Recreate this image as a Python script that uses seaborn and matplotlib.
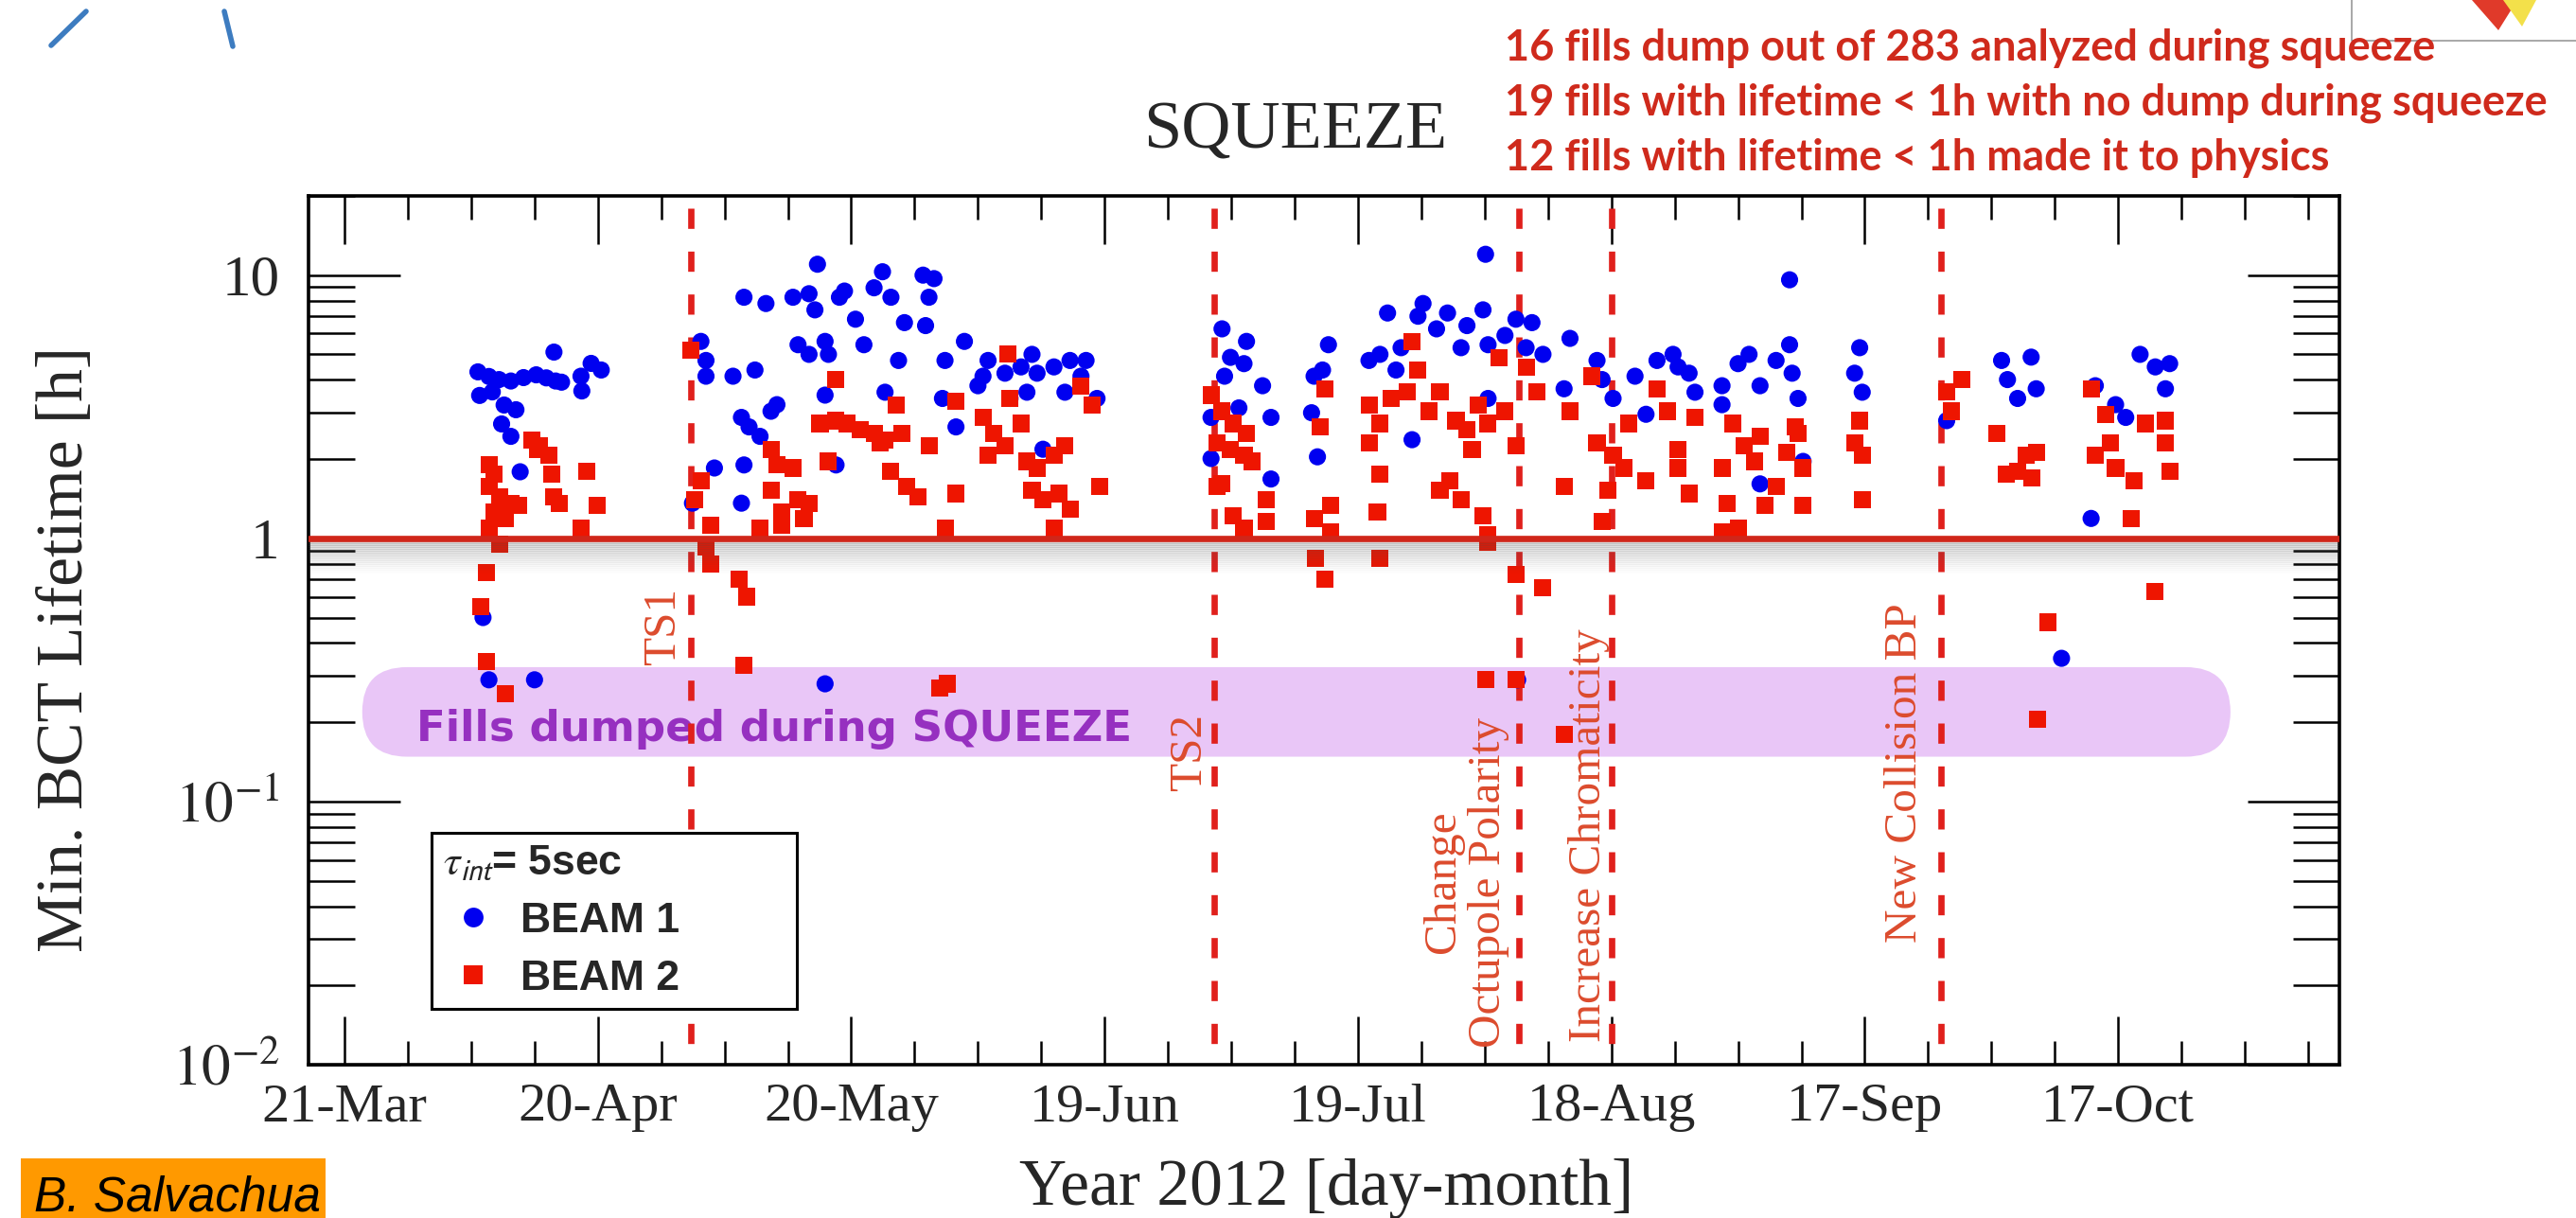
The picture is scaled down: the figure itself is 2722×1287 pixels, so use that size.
import numpy as np
import pandas as pd
import matplotlib
matplotlib.use("Agg")
import matplotlib.pyplot as plt
import matplotlib.dates as mdates
import matplotlib.ticker as mticker
from matplotlib.patches import FancyBboxPatch, Rectangle, Polygon
from matplotlib.lines import Line2D
from matplotlib.transforms import IdentityTransform
import seaborn as sns

# ---------------- data (days after 21-Mar-2012, lifetime in hours) ----------------
beam1_day = [15.8, 17.1, 18.3, 19.7, 21.2, 22.7, 23.9, 25.0, 25.7, 24.8, 28.1, 29.2, 30.4, 28.0,
             16.0, 17.5, 18.9, 20.3, 18.6, 19.7, 20.8, 16.4, 17.1, 22.5,
             42.2, 42.8, 42.8, 46.0, 48.6, 47.0, 47.9, 49.2, 50.5, 51.2, 47.3, 43.8, 47.0, 41.2,
             47.3, 49.9, 53.1, 55.0, 56.0, 55.7, 58.6, 59.2, 60.5, 62.7, 63.7, 64.7, 66.3, 68.5,
             69.8, 69.2, 68.8, 53.7, 55.0, 56.9, 57.3, 61.5, 65.6, 71.1, 73.4, 70.8, 72.4, 64.0,
             56.9, 58.2, 76.2, 78.2, 80.1, 81.4, 82.0, 84.0, 85.9, 87.8, 87.2, 89.1, 85.3, 80.8,
             78.8, 75.6, 75.0, 82.7, 56.9,
             103.9, 106.8, 104.9, 106.5, 104.2, 108.7, 105.9, 102.6, 109.7, 102.6, 109.7, 116.5,
             115.8, 114.8, 114.5, 115.2, 123.5, 121.3, 122.6, 125.1, 127.7, 127.1, 130.6, 129.3,
             132.9, 134.8, 132.2, 135.4, 137.4, 138.7, 140.6, 139.9, 141.9, 145.1, 144.4, 135.1,
             135.4, 126.4, 124.5, 148.3, 148.9, 150.2, 152.8, 154.1, 155.4, 157.3, 157.9, 159.2,
             159.9, 163.1, 163.1, 165.0, 166.3, 167.6, 169.5, 171.1, 171.4, 172.1, 171.1, 172.7,
             167.6, 138.9,
             179.4, 178.8, 179.7, 189.7, 196.2, 199.7, 196.9, 198.1, 200.3, 206.8, 207.3, 209.7,
             210.9, 212.6, 214.4, 215.6, 216.1, 203.3]
beam1_life = [4.29, 4.12, 4.01, 3.96, 4.08, 4.18, 4.07, 3.96, 3.92, 5.1, 3.63, 4.62, 4.36, 4.13,
              3.49, 3.60, 3.21, 3.08, 2.72, 2.44, 1.79, 0.50, 0.29, 0.29,
              5.6, 4.74, 4.13, 4.13, 4.36, 2.88, 2.65, 2.44, 3.04, 3.22, 1.90, 1.85, 1.36, 1.36,
              8.24, 7.8, 8.24, 8.5, 11.0, 7.38, 8.24, 8.7, 6.8, 8.95, 10.3, 8.24, 6.6, 10.0,
              9.7, 8.24, 6.43, 5.44, 5.0, 5.6, 5.0, 5.44, 4.74, 4.74, 5.6, 3.40, 2.65, 3.59,
              3.50, 1.90, 4.74, 4.24, 4.48, 5.0, 4.24, 4.48, 4.74, 4.74, 4.13, 3.40, 3.59, 3.59,
              3.40, 4.13, 3.8, 2.18, 0.28,
              6.25, 5.6, 4.87, 4.61, 4.13, 3.8, 3.13, 2.88, 2.88, 2.01, 1.68, 5.44,
              4.36, 4.13, 3.0, 2.04, 7.18, 4.74, 5.0, 5.3, 7.8, 6.98, 7.18, 6.25,
              6.43, 7.38, 5.3, 5.44, 5.9, 6.8, 6.6, 5.3, 5.0, 5.75, 3.7, 12.0,
              3.40, 2.37, 4.36, 4.74, 4.01, 3.40, 4.13, 2.96, 4.74, 5.0, 4.48, 4.24,
              3.59, 3.8, 3.22, 4.61, 5.0, 3.8, 4.74, 5.44, 4.24, 3.40, 9.6, 1.96,
              1.61, 0.29,
              5.3, 4.24, 3.59, 2.80, 4.74, 4.88, 4.01, 3.40, 3.7, 1.19, 3.8, 3.22,
              2.88, 5.0, 4.48, 3.7, 4.61, 0.35]

beam2_day = [17.1, 17.7, 17.1, 18.4, 19.7, 20.6, 17.7, 19.0, 17.1, 18.4, 22.2, 22.9, 24.2, 24.5,
             24.8, 25.4, 28.7, 29.9, 28.0, 16.8, 16.1, 16.8, 19.0, 23.1,
             41.0, 41.5, 42.2, 43.4, 42.8, 43.4, 46.7, 47.6, 47.3, 50.5, 51.2, 53.1, 50.5, 53.7,
             55.0, 51.8, 54.4, 49.2, 51.8, 58.2, 56.3, 58.2, 59.5, 61.1, 62.7, 64.0, 66.0, 65.3,
             63.4, 64.7, 66.6, 67.9, 69.2, 72.4, 72.4, 71.1, 57.3, 75.6, 76.9, 78.5, 78.8, 80.1,
             78.2, 76.2, 80.8, 82.0, 84.0, 85.3, 81.4, 82.7, 84.6, 85.9, 84.0, 87.2, 88.5, 89.4,
             70.5, 71.4,
             102.6, 103.9, 105.2, 106.8, 103.3, 104.9, 106.5, 107.5, 103.9, 103.3, 105.2, 106.5,
             109.1, 109.1, 116.1, 115.5, 116.8, 114.8, 116.8, 121.3, 121.3, 122.6, 123.9, 125.8,
             126.4, 127.1, 128.4, 129.7, 131.6, 132.9, 134.2, 135.4, 137.4, 136.7, 138.7, 139.9,
             141.2, 145.1, 133.5, 130.9, 129.7, 132.2, 134.8, 135.4, 122.6, 122.3, 144.4, 147.7,
             148.3, 150.2, 152.1, 151.5, 149.6, 148.9, 154.1, 155.4, 156.6, 157.9, 157.9, 159.2,
             159.9, 163.1, 164.4, 163.7, 165.7, 167.6, 167.0, 169.5, 168.2, 170.8, 171.8, 172.7,
             163.1, 165.0, 172.1, 172.7, 115.0, 116.1, 122.6, 138.7, 141.9, 135.4, 135.1, 138.7,
             144.4,
             179.4, 178.8, 179.7, 179.7, 189.7, 191.5, 190.3, 195.6, 196.8, 199.1, 200.3, 198.1,
             199.8, 206.8, 208.5, 207.3, 209.1, 209.7, 211.9, 213.2, 215.6, 215.6, 216.1, 211.5,
             200.5, 201.7, 214.4]
beam2_life = [1.90, 1.75, 1.57, 1.44, 1.36, 1.33, 1.26, 1.19, 1.09, 0.95, 2.37, 2.18, 2.07, 1.75,
              1.44, 1.36, 1.80, 1.33, 1.09, 0.74, 0.55, 0.34, 0.256, 2.25,
              5.2, 1.40, 1.66, 1.12, 0.93, 0.80, 0.70, 0.60, 0.33, 2.18, 1.90, 1.85, 1.52, 1.40,
              1.36, 1.26, 1.19, 1.09, 1.12, 4.01, 2.73, 2.80, 2.73, 2.58, 2.51, 2.37, 2.51, 3.22,
              2.31, 1.80, 1.57, 1.44, 2.25, 3.31, 1.48, 1.09, 1.96, 2.88, 2.51, 5.0, 3.40, 2.73,
              2.25, 2.07, 1.96, 1.85, 2.07, 2.25, 1.52, 1.40, 1.48, 1.29, 1.09, 3.8, 3.22, 1.57,
              0.27, 0.28,
              3.50, 3.04, 2.73, 2.51, 2.31, 2.18, 2.07, 1.96, 1.61, 1.57, 1.22, 1.09,
              1.40, 1.16, 3.70, 2.65, 1.33, 1.19, 1.06, 3.22, 2.31, 2.73, 3.40, 3.59,
              5.6, 4.36, 3.04, 3.59, 2.80, 2.58, 3.22, 2.73, 3.04, 4.87, 2.25, 4.48,
              3.59, 3.04, 2.18, 1.66, 1.52, 1.40, 1.22, 1.03, 1.75, 1.26, 1.57, 4.13,
              2.31, 2.07, 2.73, 1.85, 1.52, 1.16, 1.66, 3.70, 3.04, 2.18, 1.85, 1.48,
              2.88, 1.85, 2.73, 1.36, 2.25, 2.44, 1.96, 1.57, 1.33, 2.12, 2.65, 1.33,
              1.06, 1.09, 2.51, 1.85, 0.84, 0.70, 0.84, 0.73, 0.65, 0.97, 0.29, 0.29,
              0.18,
              2.80, 2.31, 2.07, 1.40, 3.59, 4.01, 3.04, 2.51, 1.75, 2.07, 2.12, 1.80,
              1.70, 3.70, 2.96, 2.07, 2.31, 1.85, 1.66, 2.73, 2.80, 2.31, 1.80, 1.19,
              0.205, 0.48, 0.63]

event_day = [41.0, 103.0, 139.0, 150.0, 189.0]
event_label = ["TS1", "TS2", "Change\nOctupole Polarity", "Increase Chromaticity", "New Collision BP"]
band_day = [2.1, 223.3]          # extent of the "fills dumped" band
band_life = [0.148, 0.324]
x_range_day = [-4.26, 236.2]
y_range = [0.01, 20]
stats_lines = ["16 fills dump out of 283 analyzed during squeeze",
               "19 fills with lifetime < 1h with no dump during squeeze",
               "12 fills with lifetime < 1h made it to physics"]

base = pd.Timestamp("2012-03-21")
to_dt = lambda d: base + pd.to_timedelta(np.asarray(d, dtype=float), unit="D")

df = pd.concat([
    pd.DataFrame({"date": to_dt(beam1_day), "life": beam1_life, "beam": "BEAM 1"}),
    pd.DataFrame({"date": to_dt(beam2_day), "life": beam2_life, "beam": "BEAM 2"}),
], ignore_index=True)

# ---------------- style ----------------
sns.set_theme(style="white")
plt.rcParams["font.family"] = ["Liberation Serif", "DejaVu Serif"]
plt.rcParams["mathtext.fontset"] = "stix"

W, H, DPI = 2722, 1287, 100
fig = plt.figure(figsize=(W / DPI, H / DPI), dpi=DPI)
fig.patch.set_facecolor("white")
ax = fig.add_axes([326 / W, 1 - 1125 / H, 2146 / W, 918 / H])
ax.set_facecolor("white")

BLUE = "#0000f0"
RED = "#ee1500"

sns.scatterplot(data=df, x="date", y="life", hue="beam", style="beam",
                markers={"BEAM 1": "o", "BEAM 2": "s"},
                palette={"BEAM 1": BLUE, "BEAM 2": RED},
                s=170, linewidth=0, legend=False, ax=ax, zorder=5)

ax.set_yscale("log")
ax.set_ylim(*y_range)
xr = to_dt(x_range_day)
ax.set_xlim(xr[0], xr[1])
ax.set_xlabel("")
ax.set_ylabel("")

# x ticks
major_x = to_dt(np.arange(0, 211, 30))
minor_x = to_dt(np.arange(0, 233, 7.5))
ax.xaxis.set_major_locator(mticker.FixedLocator(mdates.date2num(major_x)))
ax.xaxis.set_minor_locator(mticker.FixedLocator(mdates.date2num(minor_x)))
ax.xaxis.set_major_formatter(mdates.DateFormatter("%d-%b"))

# y ticks
ax.yaxis.set_major_locator(mticker.FixedLocator([0.01, 0.1, 1, 10]))
ax.yaxis.set_major_formatter(mticker.FixedFormatter([r"$10^{-2}$", r"$10^{-1}$", "1", "10"]))
ax.yaxis.set_minor_locator(mticker.LogLocator(base=10, subs=np.arange(2, 10)))
ax.yaxis.set_minor_formatter(mticker.NullFormatter())

ax.tick_params(axis="x", which="major", direction="in", length=37, width=1.8,
               top=True, bottom=True, labelsize=42, pad=14, color="black")
ax.tick_params(axis="x", which="minor", direction="in", length=18, width=1.8,
               top=True, bottom=True, color="black")
ax.tick_params(axis="y", which="major", direction="in", length=70, width=1.8,
               left=True, right=True, labelsize=44, pad=22, color="black")
ax.tick_params(axis="y", which="minor", direction="in", length=35, width=1.8,
               left=True, right=True, color="black")
for sp in ax.spines.values():
    sp.set_visible(True)
    sp.set_color("black")
    sp.set_linewidth(2.6)

# threshold line at 1 h with soft shadow
ax.axhline(1.0, color="#d0261a", lw=4.8, zorder=7)
for i in range(1, 18):
    ax.axhline(10 ** (-(2 + i * 2.0) / 277.5), color="0.3", lw=2.2,
               alpha=0.22 * (1 - i / 18) ** 1.3, zorder=6)

# vertical event lines
xa = ax.get_xaxis_transform()
for d in event_day:
    dd = mdates.date2num(to_dt([d])[0])
    ax.plot([dd, dd], [0.986, 0.0], transform=xa, color="#e0201c", lw=4.8,
            dashes=(3.2, 3.6), zorder=4, solid_capstyle="butt", dash_capstyle="butt")

ANN = "#dc4b2d"
ann_specs = [  # (y in data, x offset in points)
    (0.464, -21), (0.154, -19), (0.0494, -40), (0.0742, -17), (0.129, -27)]
for d, lab, (yv, off) in zip(event_day, event_label, ann_specs):
    dd = mdates.date2num(to_dt([d])[0])
    ax.annotate(lab, xy=(dd, yv), xytext=(off, 0), textcoords="offset points",
                rotation=90, ha="center", va="center", multialignment="center",
                fontsize=35.5, color=ANN, zorder=8, linespacing=1.12)

# purple band (pill-shaped)
fig.canvas.draw()
bx = mdates.date2num(to_dt(band_day))
p0 = ax.transData.transform((bx[0], band_life[0]))
p1 = ax.transData.transform((bx[1], band_life[1]))
bh = p1[1] - p0[1]
band = FancyBboxPatch((p0[0], p0[1]), p1[0] - p0[0], bh,
                      boxstyle=f"round,pad=0,rounding_size={bh / 2:.1f}",
                      transform=IdentityTransform(), facecolor="#e9c6f7",
                      edgecolor="none", zorder=1)
ax.add_patch(band)
ax.text(mdates.date2num(to_dt([8.5])[0]), 0.189, "Fills dumped during SQUEEZE",
        ha="left", va="center", fontsize=32.5, fontweight="bold",
        family=["DejaVu Sans"], color="#9630c0", zorder=2)

# legend
handles = [Line2D([], [], ls="none", marker="o", markerfacecolor=BLUE,
                  markeredgewidth=0, markersize=15),
           Line2D([], [], ls="none", marker="s", markerfacecolor=RED,
                  markeredgewidth=0, markersize=15)]
leg = ax.legend(handles, ["BEAM 1", "BEAM 2"], title=r"$\tau_{\mathsf{int}}$= 5sec",
                loc="upper left", bbox_to_anchor=(0.0606, 0.0675, 0.1799, 0.1993),
                mode="expand", borderaxespad=0,
                frameon=True, fancybox=False, edgecolor="black", framealpha=1,
                prop={"family": "Liberation Sans", "weight": "bold", "size": 32},
                title_fontproperties={"family": "Liberation Sans", "weight": "bold", "size": 32},
                alignment="left", handletextpad=0.4, labelspacing=0.45,
                borderpad=0.26, handlelength=1.45)
leg.get_frame().set_linewidth(2.2)
leg.set_zorder(9)

# titles and labels
fig.text(1369 / W, 1 - 157 / H, "SQUEEZE", ha="center", va="baseline", fontsize=52)
fig.text(70 / W, 1 - 686 / H, "Min. BCT Lifetime [h]", rotation=90,
         ha="center", va="center", fontsize=50)
fig.text(1402 / W, 1 - 1273 / H, "Year 2012 [day-month]", ha="center",
         va="baseline", fontsize=50)
for i, line in enumerate(stats_lines):
    fig.text(1590 / W, 1 - (63 + 58.5 * i) / H, line, ha="left", va="baseline",
             fontsize=32.5, fontweight="bold", family=["Lato", "DejaVu Sans"],
             color="#cf2a1c")

# author tag
fig.patches.append(Rectangle((22 / W, 0), 322 / W, 63 / H, transform=fig.transFigure,
                             facecolor="#ff9900", edgecolor="none"))
fig.text(36 / W, 1 - 1279 / H, "B. Salvachua", ha="left", va="baseline",
         fontsize=37, style="italic", family=["Liberation Sans"], color="black")

# slide decorations
fig.lines.append(Line2D([91 / W, 54 / W], [1 - 12 / H, 1 - 48 / H], transform=fig.transFigure,
                        color="#3d7cc0", lw=4))
fig.lines.append(Line2D([237 / W, 246 / W], [1 - 12 / H, 1 - 49 / H], transform=fig.transFigure,
                        color="#3d7cc0", lw=4))
fig.lines.append(Line2D([2485 / W, 2485 / W, 2722 / W], [1.0, 1 - 43 / H, 1 - 43 / H],
                        transform=fig.transFigure, color="0.6", lw=1.2))
fig.patches.append(Polygon([[2612 / W, 1.0], [2660 / W, 1.0], [2640 / W, 1 - 32 / H]],
                           closed=True, transform=fig.transFigure, facecolor="#e03a2a",
                           edgecolor="none"))
fig.patches.append(Polygon([[2645 / W, 1.0], [2680 / W, 1.0], [2665 / W, 1 - 28 / H]],
                           closed=True, transform=fig.transFigure, facecolor="#f3e04a",
                           edgecolor="none"))

fig.savefig("out.png", dpi=DPI, facecolor="white")
